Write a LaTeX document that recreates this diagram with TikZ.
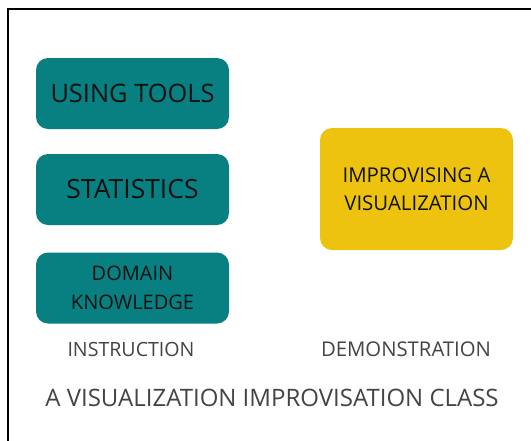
\documentclass[tikz,border=0pt]{standalone}
\usepackage{fontspec}
\setmainfont{Open Sans}
\definecolor{tealc}{HTML}{087F80}
\definecolor{yellowc}{HTML}{EEC30F}
\definecolor{txtc}{HTML}{111111}
\definecolor{lblc}{HTML}{444444}
\begin{document}
\begin{tikzpicture}[x=1pt,y=-1pt,
  boxbase/.style={rounded corners=12pt, inner sep=0pt, align=center, text=txtc,
    minimum width=193pt},
  tealbox/.style={boxbase, fill=tealc, minimum height=71pt},
  yelbox/.style={boxbase, fill=yellowc, minimum height=122pt},
  lbl/.style={text=lblc, inner sep=0pt}]
\useasboundingbox (0,0) rectangle (531,440);
\fill[white] (0,0) rectangle (531,440);
\draw[line width=2pt] (8,445) -- (8,9) -- (540,9);
\node[tealbox, font=\fontsize{25.4}{30}\selectfont] (tools) at (132.5,93.5) {USING TOOLS};
\node[tealbox, font=\fontsize{26.5}{30}\selectfont] (stats) at (132.5,189.5) {STATISTICS};
\node[tealbox, font=\fontsize{20}{29}\selectfont] (domain) at (132.5,288) {DOMAIN\\KNOWLEDGE};
\node[yelbox, font=\fontsize{20.4}{28}\selectfont] (improv) at (416.5,189) {IMPROVISING A\\VISUALIZATION};
\node[lbl, font=\fontsize{19.6}{24}\selectfont] (instr) at (131,349) {INSTRUCTION};
\node[lbl, font=\fontsize{20.3}{24}\selectfont] (demo) at (406,349) {DEMONSTRATION};
\node[lbl, font=\fontsize{24}{28}\selectfont] (title) at (272,398) {A VISUALIZATION IMPROVISATION CLASS};
\end{tikzpicture}
\end{document}
